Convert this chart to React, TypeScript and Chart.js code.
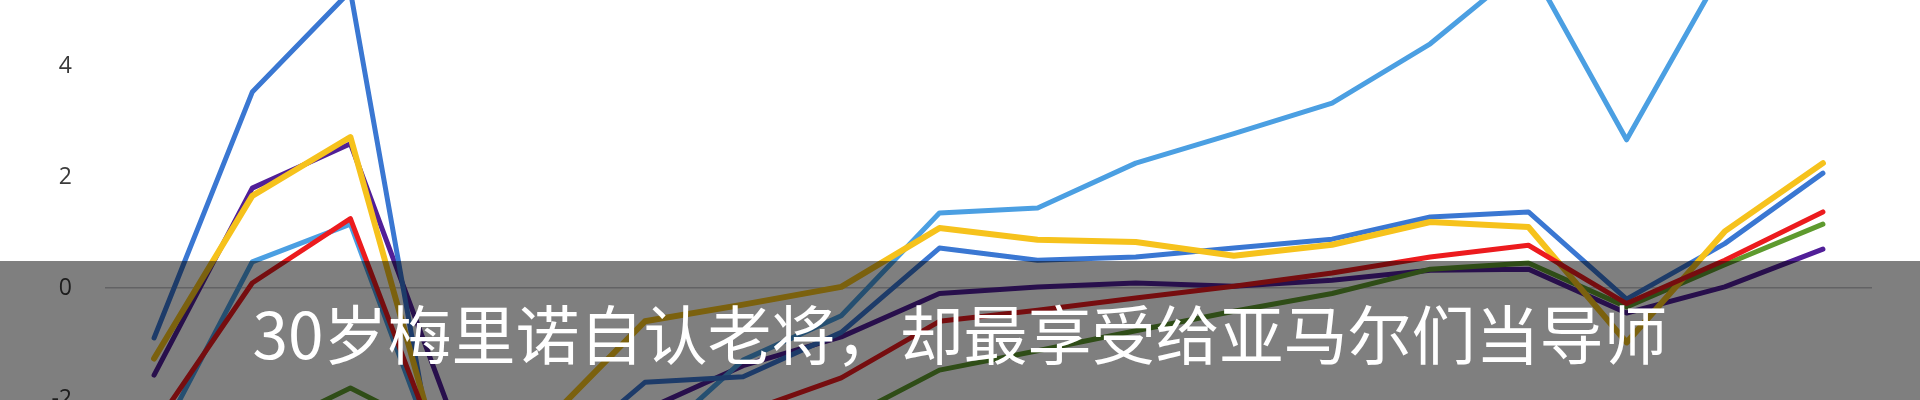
import React, { useEffect, useRef } from "react";
import { Chart, registerables } from "chart.js";

Chart.register(...registerables);

const categories = ["1", "2", "3", "4", "5", "6", "7", "8", "9", "10", "11", "12", "13", "14", "15", "16", "17", "18"];

const skyBlueSeries = [-2.9, 0.47, 1.15, -3.6, -3.2, -2.9, -1.3, -0.5, 1.35, 1.44, 2.25, 2.78, 3.33, 4.4, 5.85, 2.67, 5.8, 6.0];
const blueSeries = [-0.9, 3.53, 5.35, -4.6, -3.2, -1.7, -1.6, -0.8, 0.72, 0.5, 0.56, 0.72, 0.88, 1.28, 1.37, -0.2, 0.8, 2.07];
const yellowSeries = [-1.27, 1.66, 2.72, -3.6, -2.4, -0.6, -0.3, 0.02, 1.08, 0.87, 0.83, 0.58, 0.78, 1.19, 1.1, -0.98, 1.02, 2.25];
const purpleSeries = [-1.57, 1.8, 2.6, -2.15, -2.7, -2.2, -1.4, -0.88, -0.1, 0.02, 0.09, 0.03, 0.14, 0.32, 0.34, -0.45, 0.02, 0.7];
const redSeries = [-2.5, 0.09, 1.25, -3.4, -3.1, -2.7, -2.25, -1.62, -0.6, -0.4, -0.18, 0.03, 0.27, 0.56, 0.77, -0.28, 0.5, 1.37];
const greenSeries = [-3.4, -2.66, -1.8, -2.7, -3.4, -3.2, -2.9, -2.4, -1.48, -1.13, -0.77, -0.42, -0.1, 0.34, 0.45, -0.34, 0.42, 1.15];

const yTickStep = 2;
const yMin = -6;
const yMax = 8;

const title = "30岁梅里诺自认老将，却最享受给亚马尔们当导师";

export default function App() {
  const canvasRef = useRef<HTMLCanvasElement | null>(null);

  useEffect(() => {
    document.body.style.margin = "0";
    const canvas = canvasRef.current;
    if (!canvas) return;
    const mk = (label: string, data: number[], color: string, width = 5) => ({
      label,
      data,
      borderColor: color,
      backgroundColor: color,
      borderWidth: width,
      pointRadius: 0,
      tension: 0,
      fill: false,
      borderJoinStyle: "round" as const,
      borderCapStyle: "round" as const,
    });
    const chart = new Chart(canvas, {
      type: "line",
      data: {
        labels: categories,
        datasets: [
          mk("红", redSeries, "#ec1b1e", 5),
          mk("黄", yellowSeries, "#f6c21c", 6),
          mk("绿", greenSeries, "#5e9a2e", 5),
          mk("蓝", blueSeries, "#3a77d2", 5),
          mk("浅蓝", skyBlueSeries, "#4b9fe2", 5),
          mk("紫", purpleSeries, "#511f98", 5),
        ],
      },
      options: {
        responsive: false,
        animation: false,
        layout: { padding: { top: 20, bottom: 20, left: 0, right: 48 } },
        plugins: {
          legend: { display: false },
          tooltip: { enabled: false },
          title: { display: false },
        },
        scales: {
          x: {
            display: false,
            offset: true,
          },
          y: {
            min: yMin,
            max: yMax,
            afterFit: (scale: any) => {
              scale.width = 105;
            },
            border: { display: false },
            grid: {
              drawTicks: true,
              tickLength: 30,
              tickColor: "rgba(0,0,0,0)",
              lineWidth: 1.5,
              color: (ctx: any) => (ctx.tick && ctx.tick.value === 0 ? "#c4c4c8" : "rgba(0,0,0,0)"),
            },
            ticks: {
              stepSize: yTickStep,
              padding: 3,
              color: "#3a3a3a",
              font: { family: "'Open Sans', 'DejaVu Sans', sans-serif", size: 23 },
            },
          },
        },
      },
    });
    return () => chart.destroy();
  }, []);

  return (
    <div style={{ position: "fixed", left: 0, top: 0, width: 1920, height: 400, overflow: "hidden", background: "#ffffff" }}>
      <canvas
        ref={canvasRef}
        width={1920}
        height={817}
        style={{ position: "absolute", left: 0, top: -176, width: 1920, height: 817 }}
      />
      <div
        style={{
          position: "absolute",
          left: 0,
          top: 261,
          width: 1920,
          height: 139,
          background: "rgba(0,0,0,0.5)",
          display: "flex",
          alignItems: "center",
          justifyContent: "center",
          color: "#ffffff",
          fontFamily: "'Noto Sans CJK SC', 'Noto Sans', sans-serif",
          fontSize: 64,
          whiteSpace: "nowrap",
        }}
      >
        {title}
      </div>
    </div>
  );
}
